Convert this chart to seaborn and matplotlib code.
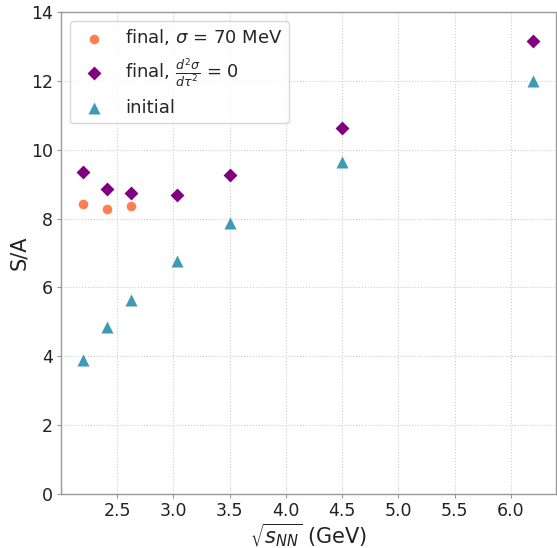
import numpy as np
import pandas as pd
import matplotlib
matplotlib.use("Agg")
import matplotlib.pyplot as plt
import seaborn as sns

sqrt_s_final70 = [2.2, 2.41, 2.62]
sa_final70 = [8.41, 8.28, 8.36]

sqrt_s_final_d2 = [2.2, 2.41, 2.62, 3.03, 3.5, 4.5, 6.2]
sa_final_d2 = [9.34, 8.85, 8.75, 8.70, 9.27, 10.62, 13.16]

sqrt_s_initial = [2.2, 2.41, 2.62, 3.03, 3.5, 4.5, 6.2]
sa_initial = [3.88, 4.84, 5.64, 6.78, 7.86, 9.64, 12.0]

sns.set_style("whitegrid")

fig = plt.figure(figsize=(5.57, 5.48), dpi=100)
ax = fig.add_axes([0.1095, 0.0985, 0.8885, 0.8795])

df70 = pd.DataFrame({"x": sqrt_s_final70, "y": sa_final70})
dfd2 = pd.DataFrame({"x": sqrt_s_final_d2, "y": sa_final_d2})
dfin = pd.DataFrame({"x": sqrt_s_initial, "y": sa_initial})

sns.scatterplot(data=df70, x="x", y="y", ax=ax, color="#ff7f50", marker="o",
                s=48, linewidth=0, label=r"final, $\sigma$ = 70 MeV")
sns.scatterplot(data=dfd2, x="x", y="y", ax=ax, color="#800080", marker="D",
                s=50, linewidth=0, label=r"final, $\frac{d^2\sigma}{d\tau^2}$ = 0")
sns.scatterplot(data=dfin, x="x", y="y", ax=ax, color="#3f9ab5", marker="^",
                s=75, linewidth=0, label="initial")

ax.set_ylim(0, 14)
ax.set_xlim(2.0, 6.4)
ax.set_xticks([2.5, 3.0, 3.5, 4.0, 4.5, 5.0, 5.5, 6.0])
ax.set_yticks(np.arange(0, 15, 2))

ax.grid(True, linestyle=":", color="#cccccc", linewidth=0.8)
for sp in ax.spines.values():
    sp.set_color("#999999")
    sp.set_linewidth(1.0)
ax.tick_params(axis="both", labelsize=12.5, length=3, color="#999999",
               labelcolor="#222222", bottom=True, left=True, pad=3)

ax.set_xlabel(r"$\sqrt{s_{NN}}$ (GeV)", fontsize=15, color="#222222", labelpad=1)
ax.set_ylabel("S/A", fontsize=15, color="#222222", labelpad=1)

ax.legend(loc="upper left", fontsize=13, frameon=True, borderpad=0.35,
          labelspacing=0.5, handletextpad=0.7)

fig.savefig("out.png", dpi=100)
